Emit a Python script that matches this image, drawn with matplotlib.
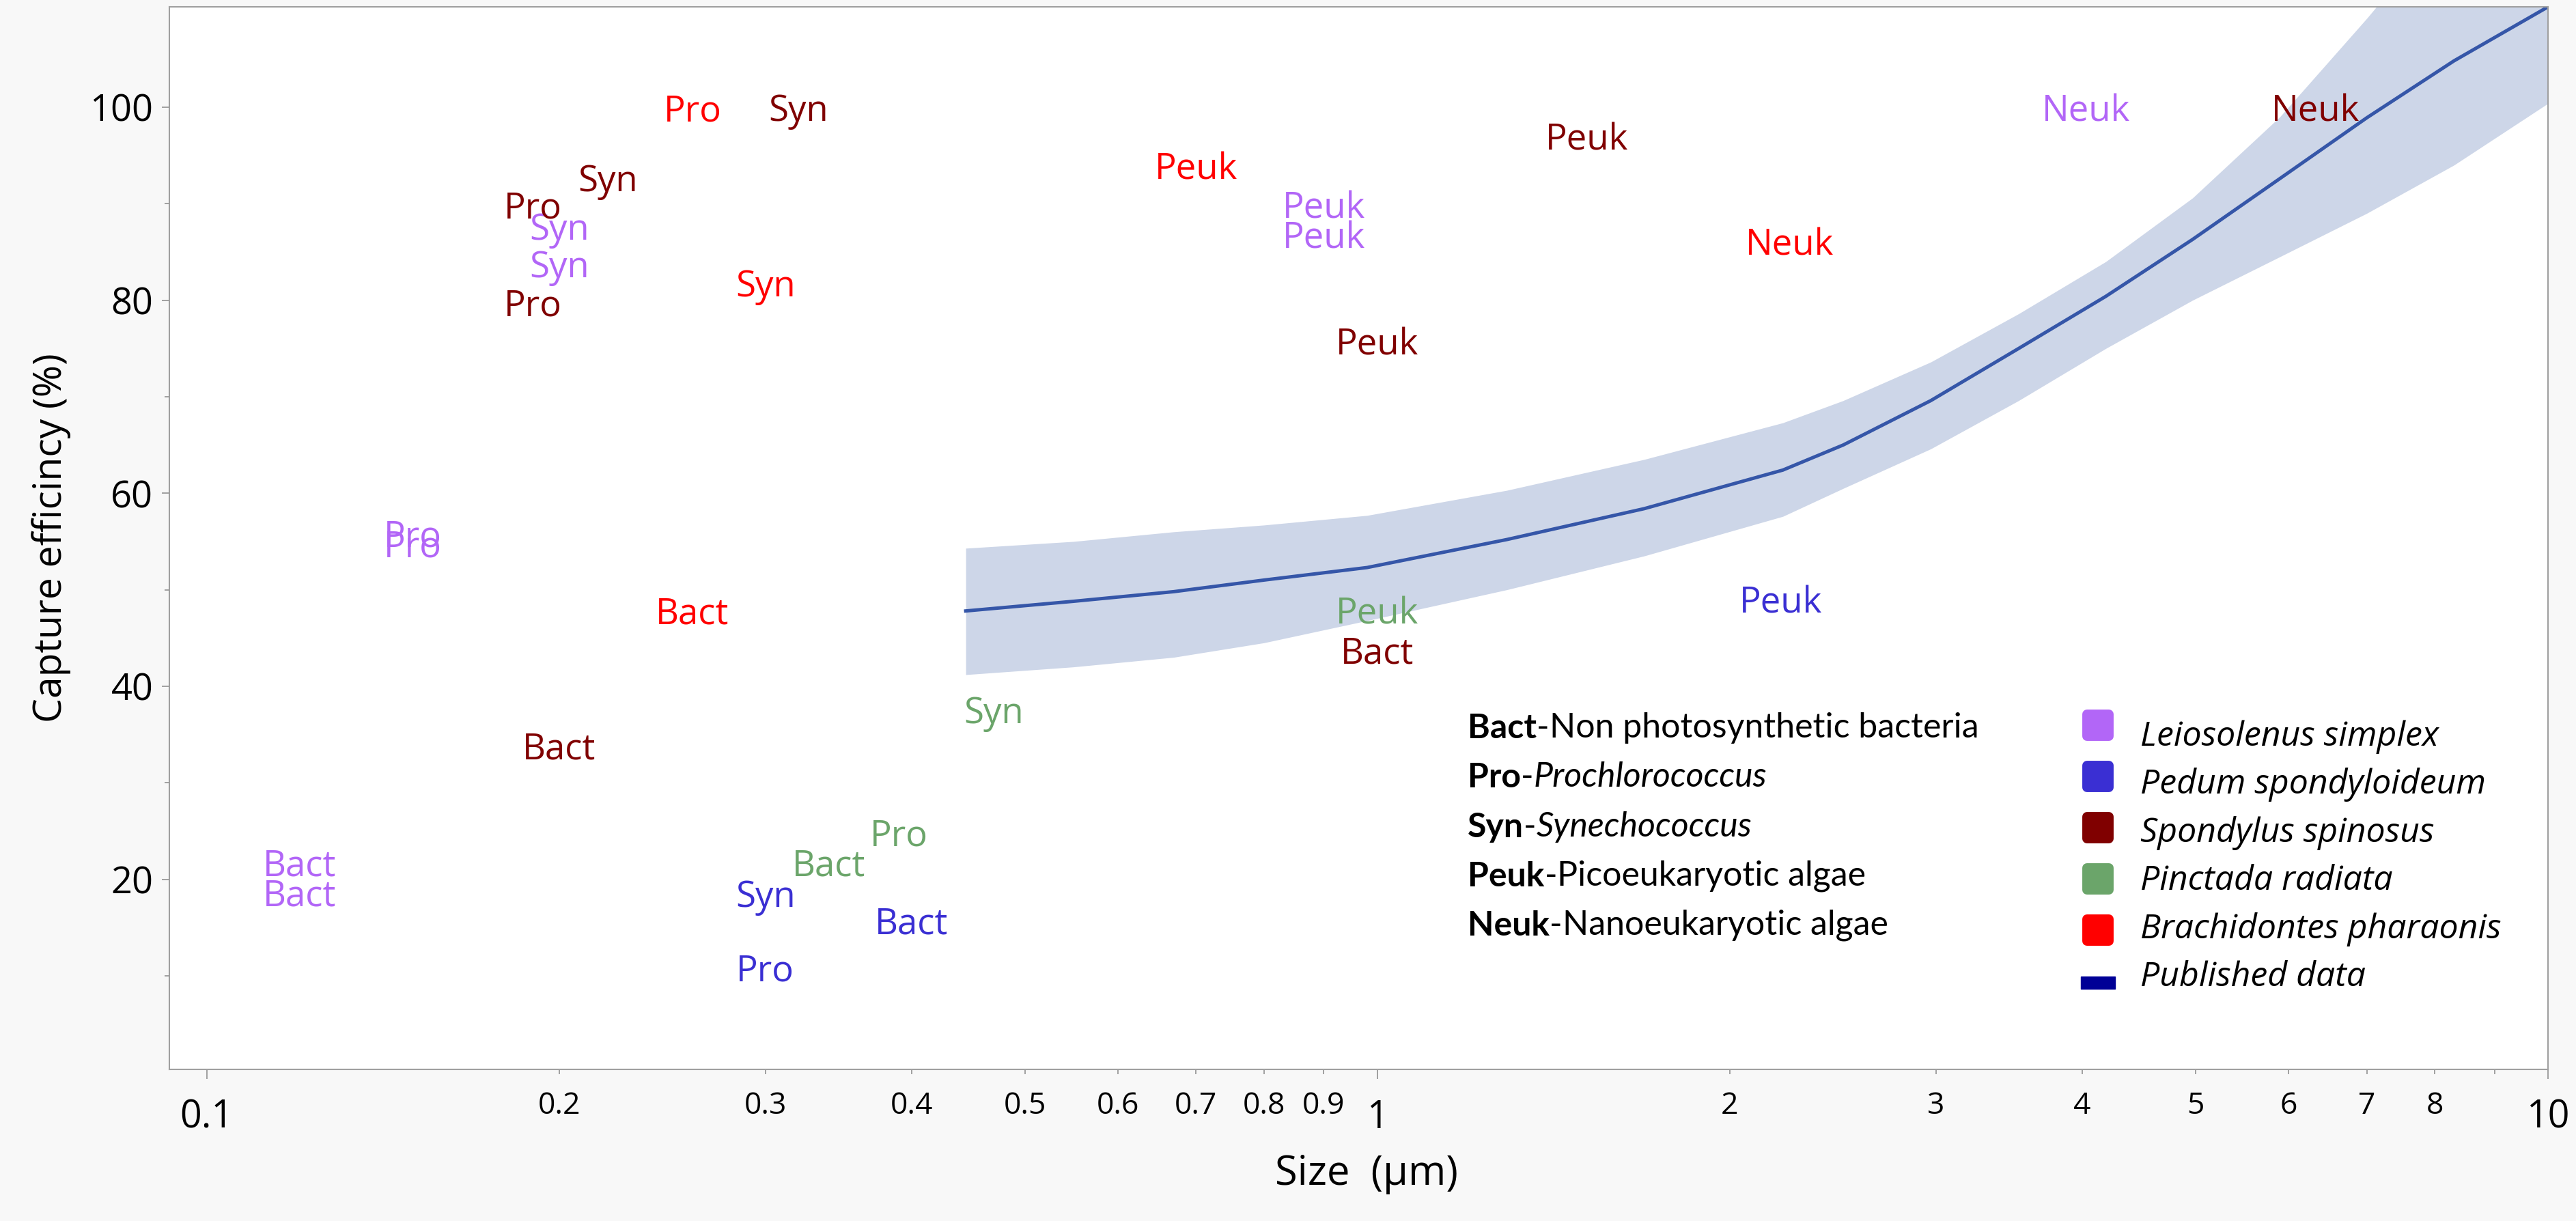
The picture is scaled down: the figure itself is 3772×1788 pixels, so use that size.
import matplotlib
matplotlib.use("Agg")
import matplotlib.pyplot as plt
from matplotlib.markers import MarkerStyle
from matplotlib.patches import Rectangle
from matplotlib.ticker import FixedLocator, FixedFormatter

# bivalve species in legend order, with their label colours
species = ["Leiosolenus simplex", "Pedum spondyloideum", "Spondylus spinosus",
           "Pinctada radiata", "Brachidontes pharaonis"]
species_colors = ["#B266F7", "#3A2FD3", "#800000", "#6BA56A", "#FF0000"]

# text markers: plankton group, cell size (um), capture efficiency (%), species index
point_labels = ["Bact", "Bact", "Pro", "Pro", "Syn", "Syn", "Peuk", "Peuk", "Neuk",
                "Syn", "Pro", "Bact", "Peuk",
                "Syn", "Syn", "Pro", "Pro", "Bact", "Peuk", "Bact", "Peuk", "Neuk",
                "Syn", "Bact", "Pro", "Peuk",
                "Pro", "Syn", "Bact", "Peuk", "Neuk"]
point_size = [0.12, 0.12, 0.15, 0.15, 0.20, 0.20, 0.90, 0.90, 4.03,
              0.30, 0.30, 0.40, 2.21,
              0.32, 0.22, 0.19, 0.19, 0.20, 1.0, 1.0, 1.51, 6.33,
              0.47, 0.34, 0.39, 1.0,
              0.26, 0.30, 0.26, 0.70, 2.25]
point_capture = [21.8, 18.7, 55.9, 54.8, 87.7, 83.8, 89.9, 86.8, 100,
                 18.6, 10.9, 15.8, 49.0,
                 100, 92.7, 89.9, 79.8, 33.9, 75.8, 43.8, 97.0, 100,
                 37.6, 21.8, 24.9, 47.9,
                 100, 81.8, 47.9, 94.0, 86.1]
point_species = [0, 0, 0, 0, 0, 0, 0, 0, 0,
                 1, 1, 1, 1,
                 2, 2, 2, 2, 2, 2, 2, 2, 2,
                 3, 3, 3, 3,
                 4, 4, 4, 4, 4]

# published data fit with its confidence band
fit_size = [0.445, 0.55, 0.67, 0.8, 0.98, 1.29, 1.69, 2.22, 2.50, 2.97, 3.53,
            4.19, 4.97, 5.90, 7.00, 8.31, 10]
fit_capture = [47.8, 48.8, 49.8, 51.0, 52.3, 55.2, 58.4, 62.4, 65.0, 69.6, 75.0,
               80.4, 86.3, 92.6, 98.9, 104.8, 110.4]
fit_lower = [41.2, 42.0, 43.0, 44.5, 46.8, 50.0, 53.5, 57.6, 60.5, 64.6, 69.6,
             75.0, 80.0, 84.5, 89.0, 94.0, 100.4]
fit_upper = [54.3, 55.0, 56.0, 56.7, 57.7, 60.3, 63.5, 67.3, 69.6, 73.6, 78.6,
             84.0, 90.6, 99.0, 109.2, 120, 130]

group_abbr = ["Bact", "Pro", "Syn", "Peuk", "Neuk"]
group_names = ["Non photosynthetic bacteria", "Prochlorococcus", "Synechococcus",
               "Picoeukaryotic algae", "Nanoeukaryotic algae"]
group_italic = [False, True, True, False, False]

x_major = [0.1, 1, 10]
x_major_labels = ["0.1", "1", "10"]
x_minor = [0.2, 0.3, 0.4, 0.5, 0.6, 0.7, 0.8, 0.9, 2, 3, 4, 5, 6, 7, 8, 9]
x_minor_labels = ["0.2", "0.3", "0.4", "0.5", "0.6", "0.7", "0.8", "0.9",
                  "2", "3", "4", "5", "6", "7", "8", ""]

plt.rcParams["font.family"] = ["Open Sans", "DejaVu Sans"]
grey = "#A0A0A0"

fig = plt.figure(figsize=(37.73, 17.88), dpi=100, facecolor="#F8F8F8")
ax = fig.add_axes([0.0657, 0.1242, 0.9232, 0.8702])
ax.set_facecolor("white")

ax.fill_between(fit_size, fit_lower, fit_upper, color="#CDD6E8", lw=0, zorder=1)
ax.plot(fit_size, fit_capture, color="#3556A8", lw=3.6, zorder=2,
        solid_joinstyle="round")

for lab, s, c, sp in zip(point_labels, point_size, point_capture, point_species):
    ax.text(s, c, lab, color=species_colors[sp], fontsize=38, ha="center",
            va="center_baseline", zorder=3)

ax.set_xscale("log")
ax.set_xlim(0.0929, 10)
ax.set_ylim(0.3, 110.4)

ax.xaxis.set_major_locator(FixedLocator(x_major))
ax.xaxis.set_major_formatter(FixedFormatter(x_major_labels))
ax.xaxis.set_minor_locator(FixedLocator(x_minor))
ax.xaxis.set_minor_formatter(FixedFormatter(x_minor_labels))
ax.set_yticks([20, 40, 60, 80, 100])
ax.set_yticks([10, 30, 50, 70, 90], minor=True)

ax.tick_params(axis="x", which="major", length=10, width=1.4, color=grey,
               labelsize=40, pad=21)
ax.tick_params(axis="x", which="minor", length=5, width=1.4, color=grey,
               labelsize=32, pad=18)
ax.tick_params(axis="y", which="major", length=8, width=1.4, color=grey,
               labelsize=39, pad=9)
ax.tick_params(axis="y", which="minor", length=5, width=1.4, color=grey)
for sp in ax.spines.values():
    sp.set_color(grey)
    sp.set_linewidth(1.5)

ax.set_ylabel("Capture efficincy (%)", fontsize=41, va="center")
ax.yaxis.set_label_coords(-0.0495, 0.5)
ax.set_xlabel("Size  (µm)", fontsize=43, va="baseline")
ax.xaxis.set_label_coords(0.5033, -0.1086)

# group key (left block): bold abbreviation, dash, name
for i in range(len(group_abbr)):
    y = 0.3117 - i * 0.0465
    t = ax.text(0.5458, y, group_abbr[i], transform=ax.transAxes, fontsize=36,
                family="Lato", fontweight="bold", va="baseline")
    t = ax.annotate("-", xy=(1, 0), xycoords=t, fontsize=36, family="Lato",
                    va="bottom")
    ax.annotate(group_names[i], xy=(1, 0), xycoords=t, fontsize=36, family="Lato",
                va="bottom", fontstyle="italic" if group_italic[i] else "normal")

# species key (right block)
key_marker = MarkerStyle("s", joinstyle="round")
for i in range(len(species)):
    ax.plot([0.8108], [0.3237 - i * 0.0482], marker=key_marker, ms=23, mew=10,
            color=species_colors[i], mec=species_colors[i],
            transform=ax.transAxes, clip_on=False)
    ax.text(0.8286, 0.3048 - i * 0.0453, species[i], transform=ax.transAxes,
            fontsize=36, fontstyle="italic", va="baseline")
ax.add_patch(Rectangle((0.8108 - 0.0071, 0.0816 - 0.0055), 0.0142, 0.011,
                       transform=ax.transAxes, color="#000096", clip_on=False))
ax.text(0.8286, 0.0784, "Published data", transform=ax.transAxes, fontsize=36,
        fontstyle="italic", va="baseline")

fig.savefig("out.png", dpi=100, facecolor=fig.get_facecolor())
